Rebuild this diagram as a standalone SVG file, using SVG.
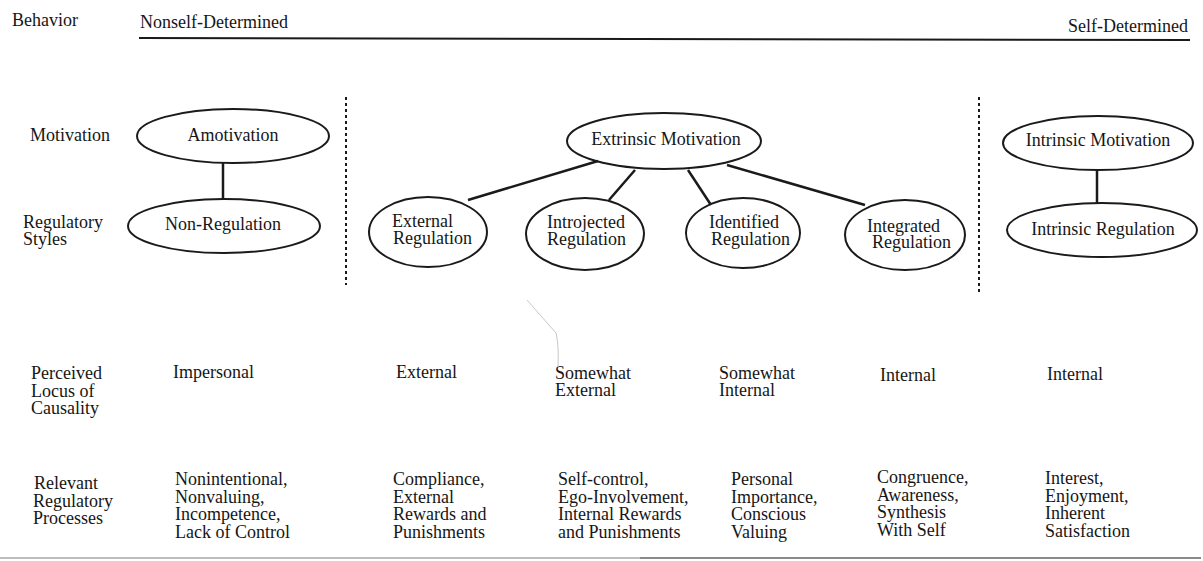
<svg xmlns="http://www.w3.org/2000/svg" width="1203" height="561" viewBox="0 0 1203 561">
<style>
text{font-family:"Liberation Serif","Times New Roman",serif;font-size:18px;fill:#161616}
.c{text-anchor:middle}
.node ellipse{fill:none;stroke:#1a1a1a;stroke-width:2}
.conn line{stroke:#1a1a1a;stroke-width:2.5}
.dot{stroke:#1a1a1a;stroke-width:2;stroke-dasharray:3 3;fill:none}
</style>
<rect width="1203" height="561" fill="#fff"/>
<g id="header">
<text x="12" y="26">Behavior</text>
<text x="140" y="28">Nonself-Determined</text>
<text x="1188" y="32" text-anchor="end">Self-Determined</text>
<line x1="139" y1="38" x2="1190" y2="40" stroke="#1a1a1a" stroke-width="2"/>
</g>
<g id="row-labels">
<text x="30" y="141">Motivation</text>
<text x="23" y="228">Regulatory</text>
<text x="23" y="245">Styles</text>
<text x="31" y="379">Perceived</text>
<text x="31" y="397">Locus of</text>
<text x="31" y="414">Causality</text>
<text x="34" y="489">Relevant</text>
<text x="33" y="507">Regulatory</text>
<text x="33" y="524">Processes</text>
</g>
<g id="dividers">
<line class="dot" x1="346" y1="97" x2="346" y2="285"/>
<line class="dot" x1="979" y1="97" x2="979" y2="292"/>
</g>
<g id="connectors" class="conn">
<line x1="223" y1="163" x2="223" y2="199"/>
<line x1="598" y1="161" x2="468" y2="200"/>
<line x1="635" y1="170" x2="609" y2="200"/>
<line x1="688" y1="170" x2="711" y2="205"/>
<line x1="727" y1="165" x2="865" y2="205"/>
<line x1="1097" y1="170" x2="1097" y2="203"/>
</g>
<g id="amotivation" class="node"><ellipse cx="233" cy="136" rx="96" ry="27"/><text class="c" x="233" y="141">Amotivation</text></g>
<g id="non-regulation" class="node"><ellipse cx="224" cy="226" rx="96" ry="27"/><text class="c" x="223" y="230">Non-Regulation</text></g>
<g id="extrinsic-motivation" class="node"><ellipse cx="664" cy="141" rx="97" ry="28"/><text class="c" x="666" y="145">Extrinsic Motivation</text></g>
<g id="external-regulation" class="node"><ellipse cx="428" cy="232" rx="59" ry="35"/><text x="392" y="227">External</text><text x="393" y="244">Regulation</text></g>
<g id="introjected-regulation" class="node"><ellipse cx="585" cy="234" rx="59" ry="36"/><text x="547" y="228">Introjected</text><text x="547" y="245">Regulation</text></g>
<g id="identified-regulation" class="node"><ellipse cx="743" cy="233" rx="57" ry="35"/><text x="709" y="228">Identified</text><text x="711" y="245">Regulation</text></g>
<g id="integrated-regulation" class="node"><ellipse cx="905" cy="235" rx="60" ry="35"/><text x="867" y="232">Integrated</text><text x="872" y="248">Regulation</text></g>
<g id="intrinsic-motivation" class="node"><ellipse cx="1098" cy="143" rx="95" ry="27"/><text class="c" x="1098" y="146">Intrinsic Motivation</text></g>
<g id="intrinsic-regulation" class="node"><ellipse cx="1102" cy="230" rx="95" ry="27"/><text class="c" x="1103" y="235">Intrinsic Regulation</text></g>
<g id="locus">
<text x="173" y="378">Impersonal</text>
<text x="396" y="378">External</text>
<text x="555" y="379">Somewhat</text><text x="555" y="396">External</text>
<text x="719" y="379">Somewhat</text><text x="719" y="396">Internal</text>
<text x="880" y="381">Internal</text>
<text x="1047" y="380">Internal</text>
</g>
<g id="processes">
<text x="175" y="485">Nonintentional,</text><text x="175" y="503">Nonvaluing,</text><text x="175" y="520">Incompetence,</text><text x="175" y="538">Lack of Control</text>
<text x="393" y="485">Compliance,</text><text x="393" y="503">External</text><text x="393" y="520">Rewards and</text><text x="393" y="538">Punishments</text>
<text x="558" y="485">Self-control,</text><text x="558" y="503">Ego-Involvement,</text><text x="558" y="520">Internal Rewards</text><text x="558" y="538">and Punishments</text>
<text x="731" y="485">Personal</text><text x="731" y="503">Importance,</text><text x="731" y="520">Conscious</text><text x="731" y="538">Valuing</text>
<text x="877" y="483">Congruence,</text><text x="877" y="501">Awareness,</text><text x="877" y="518">Synthesis</text><text x="877" y="536">With Self</text>
<text x="1045" y="484">Interest,</text><text x="1045" y="502">Enjoyment,</text><text x="1045" y="519">Inherent</text><text x="1045" y="537">Satisfaction</text>
</g>
<g id="scan-marks" fill="none">
<path d="M527 300 L556 333 Q559 345 558 367" stroke="#c8c8c8" stroke-width="1"/>
<line x1="0" y1="558" x2="640" y2="558" stroke="#bdbdbd" stroke-width="2"/>
<line x1="640" y1="558" x2="1201" y2="558" stroke="#8a8a8a" stroke-width="2"/>
</g>
</svg>
